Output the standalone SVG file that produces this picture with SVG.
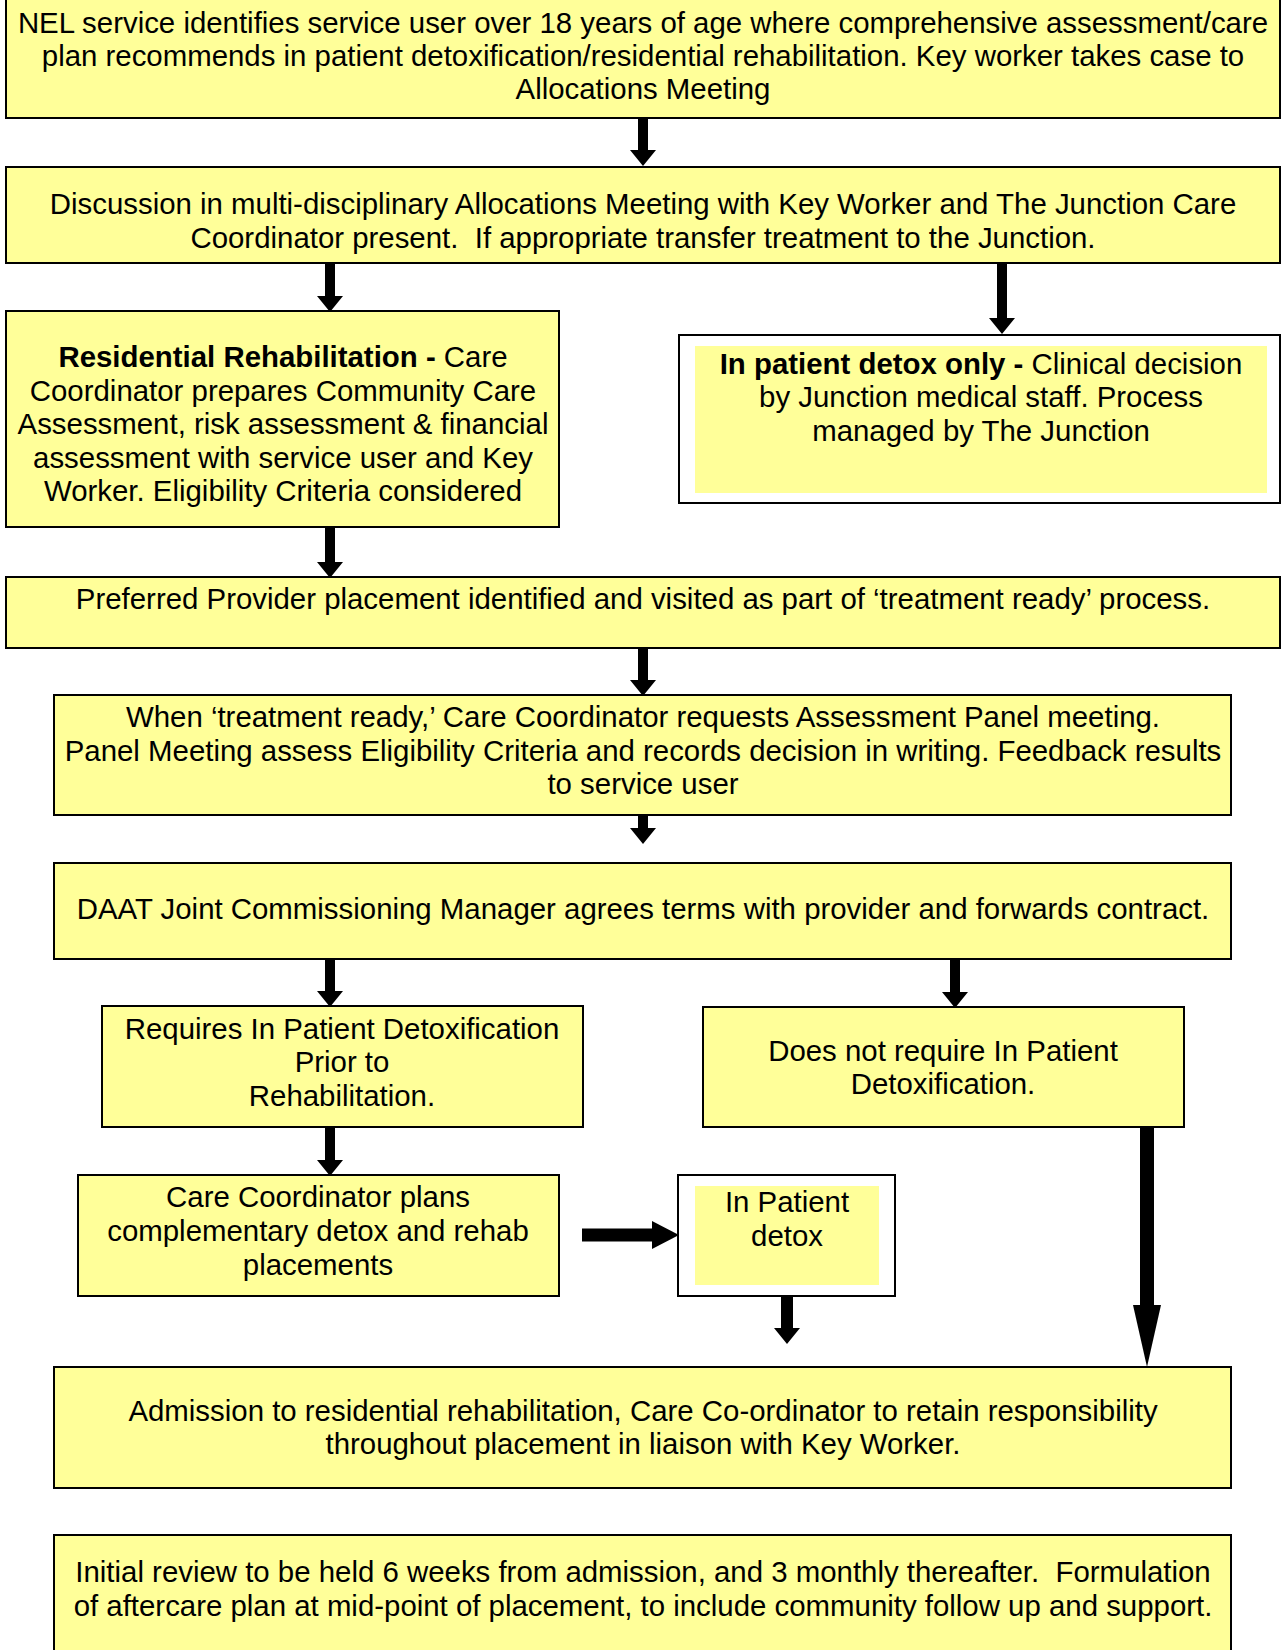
<svg xmlns="http://www.w3.org/2000/svg" width="1284" height="1650" viewBox="0 0 1284 1650">
<style>
.box{fill:#FFFF99;stroke:#000;stroke-width:2}
.wbox{fill:#fff;stroke:#000;stroke-width:2}
.inner{fill:#FFFF99;stroke:none}
text{font-family:"Liberation Sans",Arial,sans-serif;font-size:29.4px;fill:#000;text-anchor:middle;white-space:pre}
.b{font-weight:bold}
.c{fill:none;stroke:#000;stroke-width:10}
</style>
<defs>
<marker id="ah" markerUnits="userSpaceOnUse" markerWidth="16" markerHeight="26" refX="2" refY="13" orient="auto">
<path d="M0,0 L16,13 L0,26 z" fill="#000"/>
</marker>
<marker id="ahw" markerUnits="userSpaceOnUse" markerWidth="27" markerHeight="28" refX="2" refY="14" orient="auto">
<path d="M0,0 L27,14 L0,28 z" fill="#000"/>
</marker>
<marker id="ahl" markerUnits="userSpaceOnUse" markerWidth="62" markerHeight="28" refX="2" refY="14" orient="auto">
<path d="M0,0 L62,14 L0,28 z" fill="#000"/>
</marker>
</defs>
<g id="connectors">
<path class="c" d="M643,118 V152" marker-end="url(#ah)"/>
<path class="c" d="M330,263 V298" marker-end="url(#ah)"/>
<path class="c" d="M1002,263 V320" marker-end="url(#ah)"/>
<path class="c" d="M330,527 V564" marker-end="url(#ah)"/>
<path class="c" d="M643,648 V682" marker-end="url(#ah)"/>
<path class="c" d="M643,815 V830" marker-end="url(#ah)"/>
<path class="c" d="M330,959 V993" marker-end="url(#ah)"/>
<path class="c" d="M955,959 V994" marker-end="url(#ah)"/>
<path class="c" d="M330,1127 V1162" marker-end="url(#ah)"/>
<path class="c" style="stroke-width:13" d="M582,1235 H654" marker-end="url(#ahw)"/>
<path class="c" style="stroke-width:12" d="M787,1296 V1330" marker-end="url(#ah)"/>
<path class="c" style="stroke-width:14" d="M1147,1127 V1307" marker-end="url(#ahl)"/>
</g>
<g id="n1">
<rect class="box" x="6" y="-2" width="1274" height="120"/>
<text x="643" y="33">NEL service identifies service user over 18 years of age where comprehensive assessment/care</text>
<text x="643" y="66">plan recommends in patient detoxification/residential rehabilitation. Key worker takes case to</text>
<text x="643" y="99">Allocations Meeting</text>
</g>
<g id="n2">
<rect class="box" x="6" y="167" width="1274" height="96"/>
<text x="643" y="214">Discussion in multi-disciplinary Allocations Meeting with Key Worker and The Junction Care</text>
<text x="643" y="248">Coordinator present.  If appropriate transfer treatment to the Junction.</text>
</g>
<g id="n3">
<rect class="box" x="6" y="311" width="553" height="216"/>
<text x="283" y="367"><tspan class="b">Residential Rehabilitation -</tspan> Care</text>
<text x="283" y="401">Coordinator prepares Community Care</text>
<text x="283" y="434">Assessment, risk assessment &amp; financial</text>
<text x="283" y="468">assessment with service user and Key</text>
<text x="283" y="501">Worker. Eligibility Criteria considered</text>
</g>
<g id="n4">
<rect class="wbox" x="679" y="335" width="601" height="168"/>
<rect class="inner" x="695" y="346" width="572" height="147"/>
<text x="981" y="374"><tspan class="b">In patient detox only -</tspan> Clinical decision</text>
<text x="981" y="407">by Junction medical staff. Process</text>
<text x="981" y="441">managed by The Junction</text>
</g>
<g id="n5">
<rect class="box" x="6" y="577" width="1274" height="71"/>
<text x="643" y="609">Preferred Provider placement identified and visited as part of ‘treatment ready’ process.</text>
</g>
<g id="n6">
<rect class="box" x="54" y="695" width="1177" height="120"/>
<text x="643" y="727">When ‘treatment ready,’ Care Coordinator requests Assessment Panel meeting.</text>
<text x="643" y="761">Panel Meeting assess Eligibility Criteria and records decision in writing. Feedback results</text>
<text x="643" y="794">to service user</text>
</g>
<g id="n7">
<rect class="box" x="54" y="863" width="1177" height="96"/>
<text x="643" y="919">DAAT Joint Commissioning Manager agrees terms with provider and forwards contract.</text>
</g>
<g id="n8">
<rect class="box" x="102" y="1006" width="481" height="121"/>
<text x="342" y="1039">Requires In Patient Detoxification</text>
<text x="342" y="1072">Prior to</text>
<text x="342" y="1106">Rehabilitation.</text>
</g>
<g id="n9">
<rect class="box" x="703" y="1007" width="481" height="120"/>
<text x="943" y="1061">Does not require In Patient</text>
<text x="943" y="1094">Detoxification.</text>
</g>
<g id="n10">
<rect class="box" x="78" y="1175" width="481" height="121"/>
<text x="318" y="1207">Care Coordinator plans</text>
<text x="318" y="1241">complementary detox and rehab</text>
<text x="318" y="1275">placements</text>
</g>
<g id="n11">
<rect class="wbox" x="678" y="1175" width="217" height="121"/>
<rect class="inner" x="695" y="1186" width="184" height="99"/>
<text x="787" y="1212">In Patient</text>
<text x="787" y="1246">detox</text>
</g>
<g id="n12">
<rect class="box" x="54" y="1367" width="1177" height="121"/>
<text x="643" y="1421">Admission to residential rehabilitation, Care Co-ordinator to retain responsibility</text>
<text x="643" y="1454">throughout placement in liaison with Key Worker.</text>
</g>
<g id="n13">
<rect class="box" x="54" y="1535" width="1177" height="130"/>
<text x="643" y="1582">Initial review to be held 6 weeks from admission, and 3 monthly thereafter.  Formulation</text>
<text x="643" y="1616">of aftercare plan at mid-point of placement, to include community follow up and support.</text>
</g>
</svg>
